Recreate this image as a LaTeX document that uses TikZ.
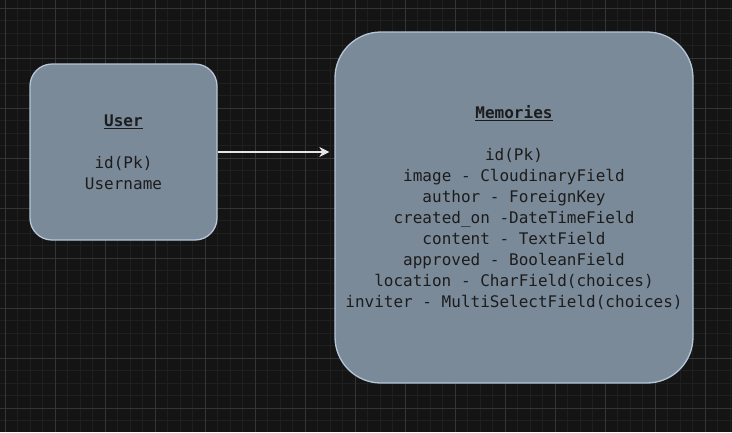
\documentclass[tikz,border=0pt]{standalone}
\usepackage{fontspec}
\setmonofont{DejaVu Sans Mono}
\usetikzlibrary{arrows.meta}

\definecolor{canvasbg}{HTML}{141414}
\definecolor{gridminor}{HTML}{1F1F1F}
\definecolor{gridmajor}{HTML}{343434}
\definecolor{boxfill}{HTML}{7B8A99}
\definecolor{boxline}{HTML}{B4C6D8}
\definecolor{boxtext}{HTML}{1C1C1C}
\definecolor{linkline}{HTML}{E6E6E6}

\begin{document}
\begin{tikzpicture}[
  x=1pt, y=-1pt,
  every node/.style={font=\ttfamily\fontsize{16}{21}\selectfont},
  minor/.style={gridminor, line width=0.8pt},
  major/.style={gridmajor, line width=0.8pt},
  entity/.style={draw=boxline, fill=boxfill, text=boxtext, line width=1.3pt,
                 align=center, inner sep=0pt},
  link/.style={linkline, line width=1.3pt, -{Stealth[length=10pt, width=10pt, inset=3pt]}},
]

% ================================================================
% Canvas and grid
% ================================================================
\fill[canvasbg] (0,0) rectangle (732,432);
\useasboundingbox (0,0) rectangle (732,432);

% Minor lines every 12.5px, major every 50px
\foreach \i in {0,...,58}
  \draw[minor] (5+12.5*\i,0) -- (5+12.5*\i,432);
\foreach \j in {0,...,33}
  \draw[minor] (0,8+12.5*\j) -- (732,8+12.5*\j);
\foreach \i in {0,...,14}
  \draw[major] (5+50*\i,0) -- (5+50*\i,432);
\foreach \j in {0,...,8}
  \draw[major] (0,8+50*\j) -- (732,8+50*\j);

% ================================================================
% Entities
% ================================================================
\node[entity, rounded corners=22pt, minimum width=187pt, minimum height=176pt]
  (user) at (123.5,152)
  {\underline{\textbf{User}}\\[21pt]id(Pk)\\Username};

\node[entity, rounded corners=46pt, minimum width=358pt, minimum height=351pt]
  (memories) at (514,207.5)
  {\underline{\textbf{Memories}}\\[21pt]
   id(Pk)\\
   image - CloudinaryField\\
   author - ForeignKey\\
   created\_on -DateTimeField\\
   content - TextField\\
   approved - BooleanField\\
   location - CharField(choices)\\
   inviter - MultiSelectField(choices)};

% --- Relation ---
\draw[link, shorten >=5pt] (user.east) -- (user.east -| memories.west);

\end{tikzpicture}
\end{document}
